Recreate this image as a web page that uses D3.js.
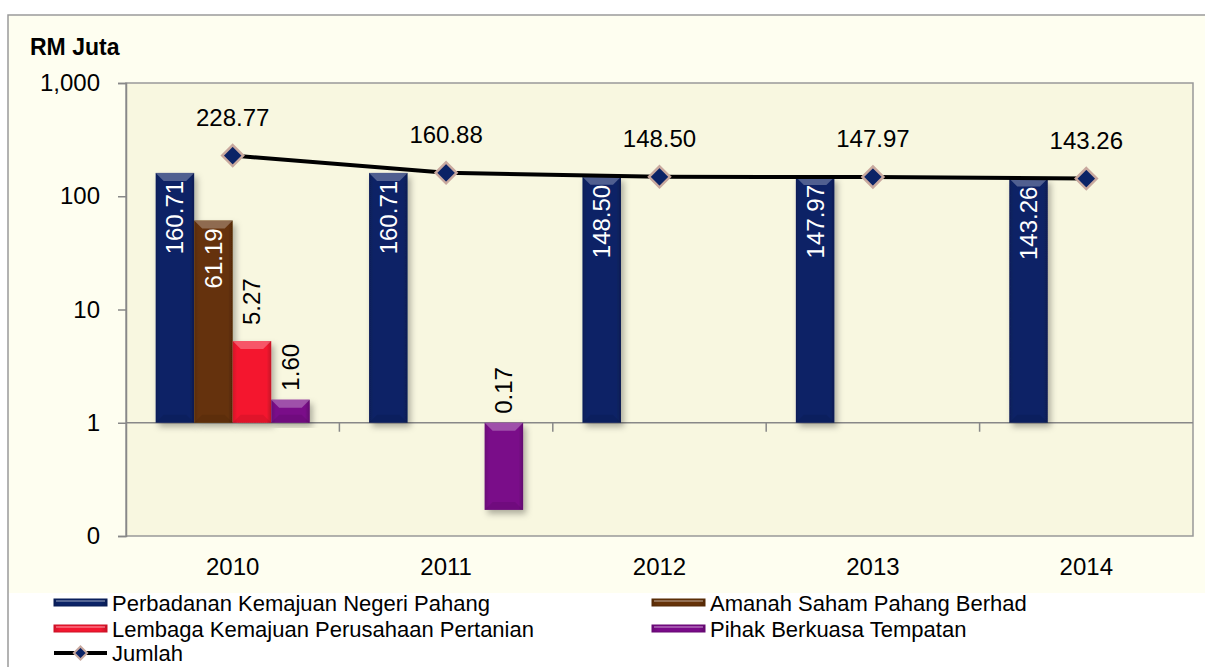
<!DOCTYPE html>
<html lang="ms">
<head>
<meta charset="utf-8">
<script src="https://d3js.org/d3.v7.min.js"></script>
<style>
  body { margin: 0; background: #ffffff; }
  svg { display: block; font-family: "Liberation Sans", Arial, sans-serif; }
</style>
</head>
<body>
<div id="chart"></div>
<script>
// data (RM Juta)
const years = ["2010", "2011", "2012", "2013", "2014"];
const seriesNames = [
  "Perbadanan Kemajuan Negeri Pahang",
  "Amanah Saham Pahang Berhad",
  "Lembaga Kemajuan Perusahaan Pertanian",
  "Pihak Berkuasa Tempatan"
];
const pknp = [160.71, 160.71, 148.50, 147.97, 143.26];
const asp  = [61.19, null, null, null, null];
const lkpp = [5.27, null, null, null, null];
const pbt  = [1.60, 0.17, null, null, null];
const jumlah = [228.77, 160.88, 148.50, 147.97, 143.26];
const lineName = "Jumlah";
const yTicks = [0.1, 1, 10, 100, 1000];

const seriesValues = [pknp, asp, lkpp, pbt];
const colors = ["#0b2366", "#653208", "#f4162f", "#7a0a89"];

const W = 1205, H = 667;
const plot = { left: 126, right: 1193, top: 83, bottom: 536 };

const svg = d3.select("#chart").append("svg")
  .attr("width", W).attr("height", H);

const defs = svg.append("defs");
const shadow = defs.append("filter").attr("id", "shadow")
  .attr("x", "-30%").attr("y", "-10%").attr("width", "160%").attr("height", "130%");
shadow.append("feDropShadow").attr("dx", 3).attr("dy", 4)
  .attr("stdDeviation", 3).attr("flood-color", "#000").attr("flood-opacity", 0.3);

// gradients for the bevelled bars
colors.forEach((c, i) => {
  const g = defs.append("linearGradient").attr("id", "grad" + i)
    .attr("x1", "0").attr("x2", "1").attr("y1", "0").attr("y2", "0");
  g.append("stop").attr("offset", "0%").attr("stop-color", d3.color(c).darker(0.4));
  g.append("stop").attr("offset", "12%").attr("stop-color", c);
  g.append("stop").attr("offset", "88%").attr("stop-color", c);
  g.append("stop").attr("offset", "100%").attr("stop-color", d3.color(c).darker(0.6));
});

// outer chart area
svg.append("rect").attr("x", 8).attr("y", 15).attr("width", W).attr("height", 578)
  .attr("fill", "#fefef0");
svg.append("path")
  .attr("d", `M8,${H + 2}V15H${W + 2}`)
  .attr("fill", "none").attr("stroke", "#9a9a9a").attr("stroke-width", 1.5);

// plot area
svg.append("rect")
  .attr("x", plot.left).attr("y", plot.top)
  .attr("width", plot.right - plot.left).attr("height", plot.bottom - plot.top)
  .attr("fill", "#f8f7e0").attr("stroke", "#999").attr("stroke-width", 1.5);

const y = d3.scaleLog().domain([0.1, 1000]).range([plot.bottom, plot.top]);
const x0 = d3.scaleBand().domain(years).range([plot.left, plot.right])
  .paddingInner(0.278).paddingOuter(0.139);
const x1 = d3.scaleBand().domain(d3.range(seriesNames.length)).range([0, x0.bandwidth()]);

// y axis
const yAxis = svg.append("g")
  .attr("transform", `translate(${plot.left},0)`)
  .call(d3.axisLeft(y).tickValues(yTicks).tickSize(8).tickPadding(18)
    .tickFormat(d => d < 1 ? "0" : d3.format(",")(d)));
yAxis.select(".domain").attr("stroke", "#888").attr("stroke-width", 1.5);
yAxis.selectAll(".tick line").attr("stroke", "#888").attr("stroke-width", 1.5);
yAxis.selectAll("text").attr("font-size", 24).attr("fill", "#000")
  .attr("font-family", "Liberation Sans, Arial, sans-serif");

// horizontal axis crossing at 1
const base = y(1);
svg.append("line").attr("x1", plot.left).attr("x2", plot.right)
  .attr("y1", base).attr("y2", base).attr("stroke", "#888").attr("stroke-width", 1.5);
const half = (x0.step() - x0.bandwidth()) / 2;
svg.append("g").selectAll("line").data(years.slice(1)).join("line")
  .attr("x1", d => x0(d) - half).attr("x2", d => x0(d) - half)
  .attr("y1", base).attr("y2", base + 9)
  .attr("stroke", "#888").attr("stroke-width", 1.5);

// category labels below the plot
const xAxis = svg.append("g")
  .attr("transform", `translate(0,${plot.bottom + 14})`)
  .call(d3.axisBottom(x0).tickSize(0).tickPadding(8));
xAxis.select(".domain").remove();
xAxis.selectAll("text").attr("font-size", 24).attr("fill", "#000")
  .attr("font-family", "Liberation Sans, Arial, sans-serif");

// bars
const bars = [];
seriesValues.forEach((vals, s) => {
  vals.forEach((v, i) => {
    if (v == null) return;
    bars.push({ s, year: years[i], v });
  });
});

const barG = svg.append("g");
bars.forEach(d => {
  const bx = x0(d.year) + x1(d.s);
  const bw = x1.bandwidth();
  const top = Math.min(y(d.v), base), bot = Math.max(y(d.v), base);
  const g = barG.append("g");
  g.append("rect").attr("x", bx).attr("y", top).attr("width", bw).attr("height", bot - top)
    .attr("fill", `url(#grad${d.s})`).attr("filter", "url(#shadow)");
  const b = Math.min(8, (bot - top) / 2);
  // bevel highlights
  g.append("path")
    .attr("d", `M${bx},${top}H${bx + bw}L${bx + bw - b},${top + b}H${bx + b}Z`)
    .attr("fill", "#fff").attr("opacity", 0.28);
  g.append("path")
    .attr("d", `M${bx},${bot}H${bx + bw}L${bx + bw - b},${bot - b}H${bx + b}Z`)
    .attr("fill", "#000").attr("opacity", 0.08);
});

// bar value labels
const fmt = d3.format(".2f");
const labelFont = 24;
bars.forEach(d => {
  const cx = x0(d.year) + x1(d.s) + x1.bandwidth() / 2;
  const txt = fmt(d.v);
  const needed = txt.length * labelFont * 0.56 + 40;
  const h = Math.abs(base - y(d.v));
  let ay, anchor, fill;
  if (d.v >= 1 && h > needed) {
    ay = y(d.v) + 8; anchor = "end"; fill = "#fff";
  } else {
    ay = Math.min(y(d.v), base) - (d.v >= 1 && h > 40 ? 16 : 9); anchor = "start"; fill = "#000";
  }
  svg.append("text")
    .attr("transform", `translate(${cx},${ay}) rotate(-90)`)
    .attr("text-anchor", anchor).attr("dy", "0.35em")
    .attr("font-size", labelFont).attr("fill", fill)
    .text(txt);
});

// Jumlah line
const cxOf = i => x0(years[i]) + x0.bandwidth() / 2;
const line = d3.line().x((d, i) => cxOf(i)).y(d => y(d));
svg.append("path").datum(jumlah).attr("d", line)
  .attr("fill", "none").attr("stroke", "#000").attr("stroke-width", 4);

const diamond = d3.symbol().type(d3.symbolDiamond2).size(280);
svg.append("g").selectAll("path").data(jumlah).join("path")
  .attr("transform", (d, i) => `translate(${cxOf(i)},${y(d)})`)
  .attr("d", diamond)
  .attr("fill", "#0b2366").attr("stroke", "#c8a89e").attr("stroke-width", 2.5);

svg.append("g").selectAll("text").data(jumlah).join("text")
  .attr("x", (d, i) => cxOf(i)).attr("y", d => y(d) - 30)
  .attr("text-anchor", "middle").attr("font-size", 24).attr("fill", "#000")
  .text(d => fmt(d));

// unit label
svg.append("text").attr("x", 30).attr("y", 55)
  .attr("font-size", 23).attr("font-weight", "bold").attr("fill", "#000")
  .text("RM Juta");

// legend
const legendCols = [54, 652];
const legendRows = [611, 637, 661];
const legendFont = 22;
seriesNames.forEach((name, i) => {
  const lx = legendCols[i % 2], ly = legendRows[Math.floor(i / 2)];
  svg.append("rect").attr("x", lx).attr("y", ly - 12).attr("width", 53).attr("height", 7)
    .attr("fill", `url(#grad${i})`)
    .attr("stroke", d3.color(colors[i]).darker(0.5)).attr("stroke-width", 1);
  svg.append("rect").attr("x", lx + 2).attr("y", ly - 11).attr("width", 49).attr("height", 2)
    .attr("fill", "#fff").attr("opacity", 0.3);
  svg.append("text").attr("x", lx + 58).attr("y", ly)
    .attr("font-size", legendFont).attr("fill", "#000").text(name);
});
{
  const lx = legendCols[0], ly = legendRows[2];
  svg.append("line").attr("x1", lx).attr("x2", lx + 53)
    .attr("y1", ly - 8).attr("y2", ly - 8).attr("stroke", "#000").attr("stroke-width", 4);
  svg.append("path").attr("transform", `translate(${lx + 26.5},${ly - 8})`)
    .attr("d", d3.symbol().type(d3.symbolDiamond2).size(110))
    .attr("fill", "#0b2366").attr("stroke", "#c8a89e").attr("stroke-width", 2);
  svg.append("text").attr("x", lx + 58).attr("y", ly)
    .attr("font-size", legendFont).attr("fill", "#000").text(lineName);
}
</script>
</body>
</html>
